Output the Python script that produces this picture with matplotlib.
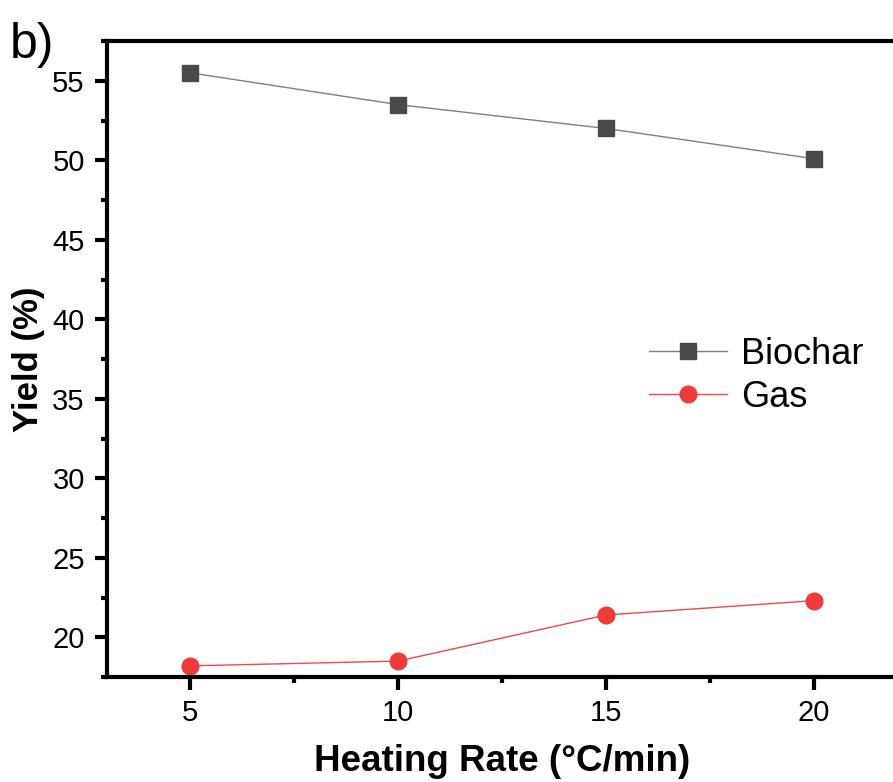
import matplotlib.pyplot as plt
from matplotlib.ticker import MultipleLocator

plt.rcParams['font.family'] = ['Liberation Sans', 'DejaVu Sans']

heating_rate = [5, 10, 15, 20]
biochar = [55.5, 53.5, 52.0, 50.1]
gas = [18.2, 18.5, 21.4, 22.3]

fig = plt.figure(figsize=(8.93, 7.82), dpi=100)
ax = fig.add_axes([107/893, 1 - 677/782, 790/893, 636/782])

ax.plot(heating_rate, biochar, '-', color='#7f7f7f', lw=1,
        marker='s', ms=11, mfc='#4a4a4a', mec='#4a4a4a', label='Biochar')
ax.plot(heating_rate, gas, '-', color='#f04848', lw=1,
        marker='o', ms=12, mfc='#ef3b3b', mec='#ef3b3b', label='Gas')

ax.set_xlim(3, 22)
ax.set_ylim(17.5, 57.5)
ax.xaxis.set_major_locator(MultipleLocator(5))
ax.xaxis.set_minor_locator(MultipleLocator(2.5))
ax.yaxis.set_major_locator(MultipleLocator(5))
ax.yaxis.set_minor_locator(MultipleLocator(2.5))

for s in ax.spines.values():
    s.set_linewidth(3)
ax.tick_params(which='major', direction='out', length=9, width=3, labelsize=21, pad=7)
ax.tick_params(which='minor', direction='out', length=4.5, width=3)

ax.set_xlabel('Heating Rate (°C/min)', fontsize=26.5, fontweight='bold', labelpad=12)
ax.set_ylabel('Yield (%)', fontsize=25, fontweight='bold', labelpad=5)

ax.legend(loc='center left', bbox_to_anchor=(0.645, 0.474), fontsize=26,
          frameon=False, handlelength=2.15, handletextpad=0.4, labelspacing=0.22)

fig.text(10/893, 1 - 58/782, 'b)', fontsize=36)

fig.savefig('out.png', dpi=100)
